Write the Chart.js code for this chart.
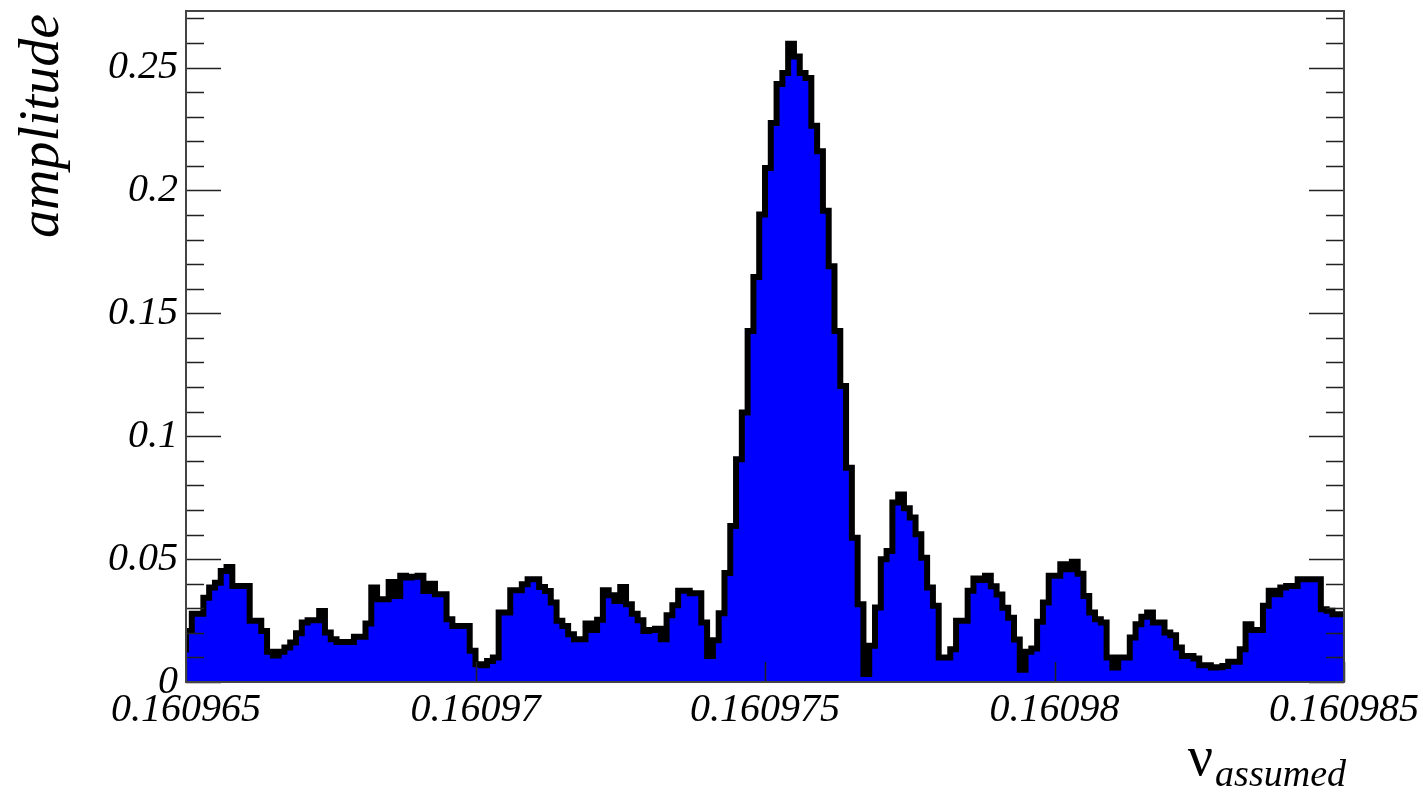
<!DOCTYPE html>
<html>
<head>
<meta charset="utf-8">
<script src="https://cdn.jsdelivr.net/npm/chart.js@4/dist/chart.umd.min.js"></script>
<style>
  html, body { margin: 0; padding: 0; background: #fff; }
  #wrap { width: 1423px; height: 792px; }
</style>
</head>
<body>
<div id="wrap"><canvas id="spectrum" width="1423" height="792"></canvas></div>
<script>
// histogram range and binning
const xMin = 0.160965;
const xMax = 0.160985;
const nBins = 200;

// bin contents (left to right)
const amplitudes = [
    0.0120, 0.0208, 0.0278, 0.0278, 0.0343, 0.0384, 0.0404, 0.0452, 0.0468, 0.0391,
    0.0391, 0.0391, 0.0249, 0.0249, 0.0208, 0.0123, 0.0108, 0.0123, 0.0140, 0.0161,
    0.0198, 0.0242, 0.0251, 0.0251, 0.0289, 0.0201, 0.0174, 0.0163, 0.0163, 0.0163,
    0.0184, 0.0184, 0.0238, 0.0384, 0.0337, 0.0337, 0.0407, 0.0350, 0.0432, 0.0425,
    0.0428, 0.0432, 0.0370, 0.0400, 0.0357, 0.0357, 0.0255, 0.0228, 0.0228, 0.0228,
    0.0127, 0.0072, 0.0068, 0.0085, 0.0100, 0.0283, 0.0283, 0.0373, 0.0373, 0.0398,
    0.0418, 0.0418, 0.0387, 0.0370, 0.0323, 0.0249, 0.0228, 0.0194, 0.0174, 0.0174,
    0.0238, 0.0212, 0.0253, 0.0373, 0.0353, 0.0330, 0.0387, 0.0316, 0.0278, 0.0251,
    0.0208, 0.0212, 0.0217, 0.0174, 0.0272, 0.0312, 0.0371, 0.0371, 0.0361, 0.0361,
    0.0242, 0.0106, 0.0170, 0.0280, 0.0443, 0.0635, 0.0906, 0.1096, 0.1428, 0.1648,
    0.1902, 0.2091, 0.2274, 0.2433, 0.2478, 0.2597, 0.2545, 0.2478, 0.2457, 0.2263,
    0.2159, 0.1917, 0.1692, 0.1428, 0.1204, 0.0872, 0.0587, 0.0316, 0.0033, 0.0147,
    0.0303, 0.0499, 0.0533, 0.0730, 0.0763, 0.0707, 0.0669, 0.0601, 0.0506, 0.0384,
    0.0310, 0.0100, 0.0100, 0.0133, 0.0249, 0.0249, 0.0371, 0.0421, 0.0415, 0.0432,
    0.0390, 0.0356, 0.0302, 0.0261, 0.0173, 0.0050, 0.0123, 0.0136, 0.0245, 0.0323,
    0.0432, 0.0432, 0.0479, 0.0459, 0.0489, 0.0440, 0.0350, 0.0283, 0.0255, 0.0242,
    0.0100, 0.0059, 0.0100, 0.0100, 0.0181, 0.0235, 0.0265, 0.0283, 0.0242, 0.0242,
    0.0201, 0.0190, 0.0140, 0.0106, 0.0106, 0.0096, 0.0068, 0.0068, 0.0059, 0.0060,
    0.0065, 0.0082, 0.0082, 0.0133, 0.0235, 0.0212, 0.0212, 0.0310, 0.0371, 0.0357,
    0.0384, 0.0391, 0.0391, 0.0418, 0.0418, 0.0418, 0.0418, 0.0296, 0.0290, 0.0276
];

const yMax = 0.273;
const xTickValues = [0.160965, 0.16097, 0.160975, 0.16098, 0.160985];
const xTickLabels = ['0.160965', '0.16097', '0.160975', '0.16098', '0.160985'];
const yTickValues = [0, 0.05, 0.1, 0.15, 0.2, 0.25];
const yTickLabels = ['0', '0.05', '0.1', '0.15', '0.2', '0.25'];
const yMinorStep = 0.01;

// step points: left edge of every bin, plus the right edge of the last one
const binWidth = (xMax - xMin) / nBins;
const points = amplitudes.map((v, i) => ({ x: xMin + i * binWidth, y: v }));
points.push({ x: xMax, y: amplitudes[amplitudes.length - 1] });

const serif = "'Liberation Serif', 'DejaVu Serif', serif";

// ROOT-like frame with inward ticks and the axis titles
const rootFrame = {
    id: 'rootFrame',
    afterDatasetsDraw(chart) {
        const { ctx, chartArea: a, scales } = chart;
        const xs = scales.x, ys = scales.y;
        ctx.save();
        ctx.strokeStyle = '#222';
        ctx.lineWidth = 1.5;
        ctx.beginPath();
        for (let k = 0; k * yMinorStep <= yMax + 1e-9; k++) {
            const v = k * yMinorStep;
            const py = Math.round(ys.getPixelForValue(v)) + 0.5;
            const len = (k % 5 === 0) ? 35 : 18;
            ctx.moveTo(a.left, py); ctx.lineTo(a.left + len, py);
            ctx.moveTo(a.right, py); ctx.lineTo(a.right - len, py);
        }
        xTickValues.forEach(v => {
            const px = Math.round(xs.getPixelForValue(v)) + 0.5;
            ctx.moveTo(px, a.bottom); ctx.lineTo(px, a.bottom - 20);
        });
        ctx.stroke();
        ctx.strokeStyle = '#444';
        ctx.lineWidth = 2;
        ctx.strokeRect(a.left, a.top, a.right - a.left, a.bottom - a.top);
        ctx.restore();
    },
    afterDraw(chart) {
        const { ctx, chartArea: a } = chart;
        ctx.save();
        ctx.fillStyle = '#000';
        // y title, rotated, aligned to the top of the axis
        ctx.translate(58, a.top + 3);
        ctx.rotate(-Math.PI / 2);
        ctx.font = 'italic 56px ' + serif;
        ctx.textAlign = 'right';
        ctx.textBaseline = 'alphabetic';
        ctx.fillText('amplitude', 0, 0);
        ctx.restore();

        // x title with subscript, aligned to the right end of the axis
        ctx.save();
        ctx.fillStyle = '#000';
        ctx.textBaseline = 'alphabetic';
        ctx.font = 'italic 38px ' + serif;
        const sub = 'assumed';
        const subW = ctx.measureText(sub).width;
        ctx.textAlign = 'right';
        ctx.fillText(sub, a.right + 2, 786);
        ctx.font = '56px ' + serif;
        ctx.fillText('ν', a.right + 2 - subW - 2, 775);
        ctx.restore();
    }
};

new Chart(document.getElementById('spectrum').getContext('2d'), {
    type: 'line',
    data: {
        datasets: [{
            data: points,
            stepped: 'after',
            fill: 'origin',
            backgroundColor: '#0000ff',
            borderColor: '#000',
            borderWidth: 6,
            borderJoinStyle: 'miter',
            borderCapStyle: 'butt',
            pointRadius: 0,
            tension: 0
        }]
    },
    options: {
        responsive: false,
        animation: false,
        devicePixelRatio: 1,
        layout: { padding: { top: 11, right: 79, left: 0, bottom: 0 } },
        plugins: {
            legend: { display: false },
            tooltip: { enabled: false },
            title: { display: false }
        },
        scales: {
            x: {
                type: 'linear',
                min: xMin,
                max: xMax,
                grid: { display: false, drawTicks: false },
                border: { display: false },
                afterBuildTicks: s => { s.ticks = xTickValues.map(v => ({ value: v })); },
                afterFit: s => { s.height = 110; s.paddingLeft = 0; s.paddingRight = 0; },
                ticks: {
                    autoSkip: false,
                    maxRotation: 0,
                    padding: 4,
                    color: '#000',
                    font: { family: serif, style: 'italic', size: 40 },
                    callback: (v, i) => xTickLabels[i]
                }
            },
            y: {
                type: 'linear',
                min: 0,
                max: yMax,
                grid: { display: false, drawTicks: false },
                border: { display: false },
                afterBuildTicks: s => { s.ticks = yTickValues.map(v => ({ value: v })); },
                afterFit: s => { s.width = 186; s.paddingTop = 0; s.paddingBottom = 0; },
                ticks: {
                    autoSkip: false,
                    padding: 8,
                    color: '#000',
                    font: { family: serif, style: 'italic', size: 40 },
                    callback: (v, i) => yTickLabels[i]
                }
            }
        }
    },
    plugins: [rootFrame]
});
</script>
</body>
</html>
